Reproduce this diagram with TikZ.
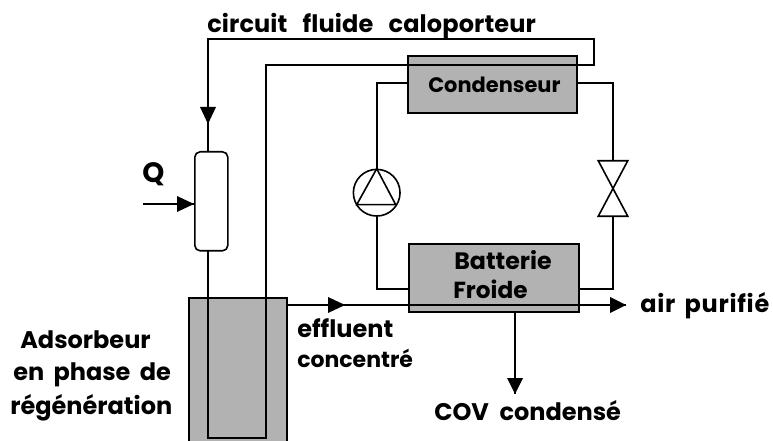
\documentclass[tikz,border=0pt]{standalone}
\usepackage{fontspec}
\setmainfont{Poppins}
\usetikzlibrary{calc}
\definecolor{boxgray}{RGB}{178,178,178}
\newcommand{\labfont}[3]{\bfseries\fontsize{#1}{#1}\selectfont\addfontfeatures{LetterSpace=#2}\spaceskip=#3pt\relax}
\tikzset{
  px/.style={x=0.75pt,y=-0.75pt},
  line/.style={draw=black,line width=1.5pt},
  graybox/.style={draw=black,fill=boxgray,line width=1.6pt,inner sep=0pt,anchor=north west},
  heater/.style={draw=black,fill=white,line width=1.2pt,rounded corners=4pt,inner sep=0pt,anchor=north west,minimum width=24.75pt,minimum height=74.25pt},
  pumpc/.style={circle,draw=black,fill=white,line width=1.2pt,inner sep=0pt,minimum size=35pt},
  valvebox/.style={inner sep=0pt,minimum width=21.75pt,minimum height=41.25pt},
  tipfill/.style={fill=black,draw=none},
  lab/.style={inner sep=0pt,anchor=base west,text=black},
}
\begin{document}
\begin{tikzpicture}[px]
\useasboundingbox (0,0) rectangle (773,441);
\begin{scope}
\clip (0,0) rectangle (773,441);
\node[graybox,minimum width=73.5pt,minimum height=112pt] (ads) at (188,297) {};
\node[graybox,minimum width=126.75pt,minimum height=42.75pt] (cond) at (406.5,55) {};
\node[graybox,minimum width=127.5pt,minimum height=51pt] (batt) at (408,243) {};
\end{scope}
\node[heater] (heat) at (194,151) {};
\node[pumpc] (pump) at (376.7,192.7) {};
\node[valvebox] (valve) at (613,188.5) {};
% coordinates
\coordinate (cTL) at (208,39);
\coordinate (cTR) at (594,39);
\coordinate (cMR) at (594,65);
\coordinate (cML) at (266,65);
\coordinate (cBR) at (266,438);
\coordinate (cBL) at (208,438);
\coordinate (heatTop) at (208,151);
\coordinate (heatBot) at (208,250);
\coordinate (qStart) at (143,204);
\coordinate (qEnd) at (194,204);
\coordinate (condL) at (406.5,83);
\coordinate (condR) at (576,83);
\coordinate (battL) at (408,289);
\coordinate (battR) at (578,289);
\coordinate (effS) at (286,305);
\coordinate (effM) at (345,305);
\coordinate (effE) at (626,305);
\coordinate (dropS) at (515,311);
\coordinate (dropE) at (515,394);
% fluid circuit
\draw[line,line join=miter] (heatTop) -- (cTL) -- (cTR) -- (cMR) -- (cML) -- (cBR) -- (cBL) -- (heatBot);
\fill[tipfill] (208,124) -- ++(-8,-17) -- ++(16,0) -- cycle;
% Q
\draw[line] (qStart) -- (qEnd);
\fill[tipfill] (qEnd) -- ++(-17,-8) -- ++(0,16) -- cycle;
% refrigerant
\draw[line] (condL) -| (pump.north);
\draw[line] (pump.south) |- (battL);
\draw[line] (condR) -| (valve.north);
\draw[line] (valve.south) |- (battR);
\draw[line width=1.2pt,line join=miter] (pump.center)++(0,-24) -- ++(19,36) -- ++(-39,0) -- cycle;
\draw[line width=1.2pt,line join=miter] (valve.north west) -- (valve.north east) -- (valve.south west) -- (valve.south east) -- cycle;
% effluent
\draw[line] (effS) -- (effE);
\fill[tipfill] (effM) -- ++(-17,-8) -- ++(0,16) -- cycle;
\fill[tipfill] (effE) -- ++(-16,-8) -- ++(0,16) -- cycle;
% condensate
\draw[line] (dropS) -- (dropE);
\fill[tipfill] (dropE) -- ++(-8,-16) -- ++(16,0) -- cycle;
% labels
\node[lab] (tCirc) at (207,33) {\labfont{18}{0.5}{11.5}circuit fluide caloporteur};
\node[lab] (tCond) at (428,93) {\labfont{15.7}{0}{4}Condenseur};
\node[lab] (tBatt) at (454,270) {\labfont{17.8}{0}{4}Batterie};
\node[lab] (tFroi) at (453,298) {\labfont{17.4}{0}{4}Froide};
\node[lab] (tQ) at (142,183) {\labfont{21}{0}{4}Q};
\node[lab] (tAir) at (640,312) {\labfont{18}{3}{7}air purifié};
\node[lab] (tEff) at (297,337) {\labfont{18}{0}{4}effluent};
\node[lab] (tCon) at (297,367) {\labfont{16.5}{0}{4}concentré};
\node[lab] (tCov) at (434,420) {\labfont{18}{0}{8}COV condensé};
\node[lab] (tAd1) at (20,348) {\labfont{18}{0}{4}Adsorbeur};
\node[lab] (tAd2) at (13,380) {\labfont{18}{0}{7}en phase de};
\node[lab] (tAd3) at (10,414) {\labfont{18}{0}{4}régénération};
\end{tikzpicture}
\end{document}
